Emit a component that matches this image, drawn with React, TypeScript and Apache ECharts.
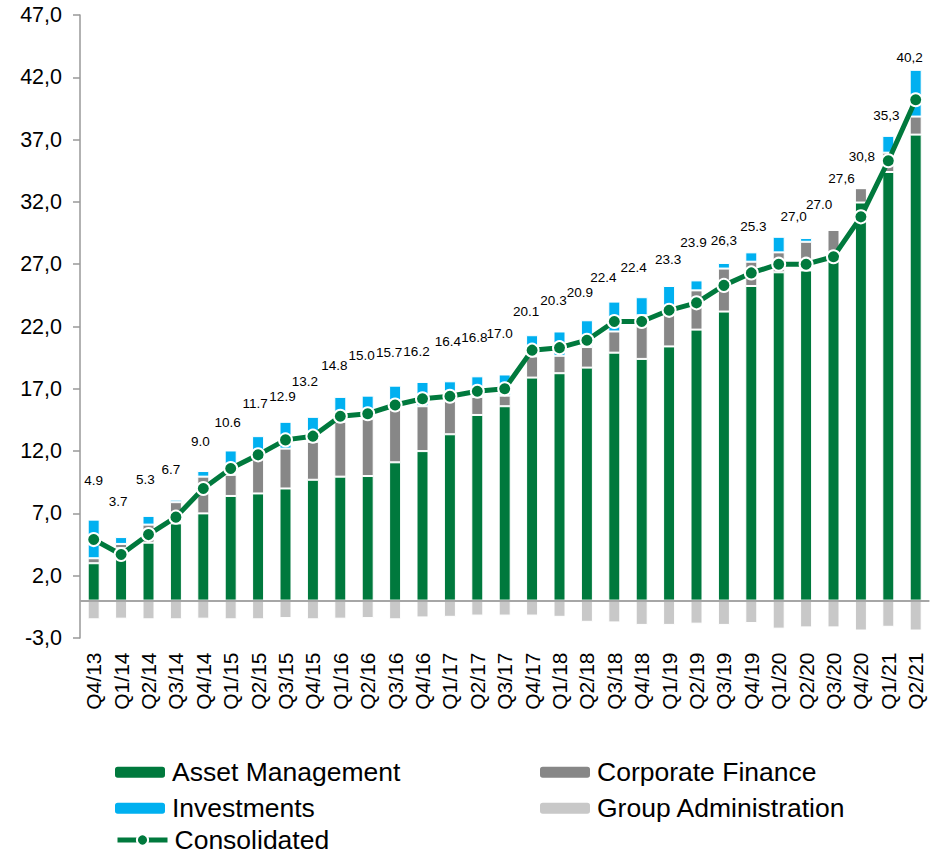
import React, { useEffect, useRef } from "react";
import * as echarts from "echarts";

const categories = [
  "Q4/13", "Q1/14", "Q2/14", "Q3/14", "Q4/14", "Q1/15", "Q2/15", "Q3/15", "Q4/15",
  "Q1/16", "Q2/16", "Q3/16", "Q4/16", "Q1/17", "Q2/17", "Q3/17", "Q4/17", "Q1/18",
  "Q2/18", "Q3/18", "Q4/18", "Q1/19", "Q2/19", "Q3/19", "Q4/19", "Q1/20", "Q2/20",
  "Q3/20", "Q4/20", "Q1/21", "Q2/21",
];

const assetManagement = [
  3.0, 4.2, 4.65, 6.2, 7.0, 8.4, 8.6, 9.0, 9.7, 9.95, 10.0, 11.1, 12.0, 13.35, 14.9, 15.6,
  17.9, 18.25, 18.7, 19.9, 19.4, 20.4, 21.75, 23.2, 25.25, 26.35, 26.5, 27.4, 31.95, 34.4, 37.4,
];

const corporateFinance = [
  0.4, 0.35, 1.45, 1.7, 2.95, 1.7, 2.9, 3.2, 3.05, 4.4, 4.6, 4.3, 3.6, 2.75, 1.45, 0.85,
  1.7, 1.4, 1.65, 1.7, 3.5, 2.95, 3.15, 3.45, 1.95, 1.6, 2.3, 2.35, 1.15, 1.55, 1.45,
];

const investments = [
  3.1, 0.55, 0.7, 0.2, 0.45, 1.95, 1.7, 2.15, 2.0, 2.0, 1.85, 1.85, 1.95, 1.5, 1.65, 1.7,
  1.7, 1.95, 2.15, 2.4, 1.45, 1.9, 0.8, 0.45, 0.75, 1.25, 0.3, 0, 0, 1.35, 3.75,
];

const groupAdministration = [
  -1.5, -1.45, -1.5, -1.5, -1.45, -1.5, -1.5, -1.4, -1.5, -1.45, -1.4, -1.5, -1.35, -1.3, -1.2, -1.2,
  -1.2, -1.3, -1.7, -1.75, -1.95, -1.95, -1.85, -1.95, -1.8, -2.25, -2.15, -2.15, -2.4, -2.1, -2.4,
];

const consolidated = [
  4.9, 3.7, 5.3, 6.7, 9.0, 10.6, 11.7, 12.9, 13.2, 14.8, 15.0, 15.7, 16.2, 16.4, 16.8, 17.0,
  20.1, 20.3, 20.9, 22.4, 22.4, 23.3, 23.9, 25.3, 26.3, 27.0, 27.0, 27.6, 30.8, 35.3, 40.2,
];

const consolidatedLabels = [
  "4.9", "3.7", "5.3", "6.7", "9.0", "10.6", "11.7", "12.9", "13.2", "14.8", "15.0", "15.7",
  "16.2", "16.4", "16.8", "17.0", "20.1", "20.3", "20.9", "22.4", "22.4", "23.3", "23.9",
  "26,3", "25.3", "27,0", "27.0", "27,6", "30,8", "35,3", "40,2",
];

// label placement (pixel offsets of each label centre from its marker)
const labelDx = [0, -3, -3, -5, -3, -3, -3, -3, -8, -6, -6, -6, -6, -2, -3, -5, -6, -6, -7, -11, -8, -1, -3, 0, 2, 15, 13, 8, 1, -2, -6];
const labelDy = [-59, -53, -55, -48, -47, -46, -51, -43, -55, -51, -58, -52, -47, -55, -54, -55, -39, -47, -48, -44, -54, -51, -60, -45, -46, -48, -60, -78, -60, -45, -42];

const yMin = -3;
const yMax = 47;
const yStep = 5;

const GREEN = "#00793D";
const BLUE = "#00B0F0";
const DARK_GRAY = "#878787";
const LIGHT_GRAY = "#C8C8C8";
const FONT = "'Liberation Sans', Arial, sans-serif";

export default function App() {
  const ref = useRef<HTMLDivElement>(null);

  useEffect(() => {
    if (!ref.current) return;
    const chart = echarts.init(ref.current, undefined, { renderer: "svg" });

    const barBase = {
      type: "bar",
      stack: "total",
      barWidth: 12,
      itemStyle: { borderColor: "#ffffff", borderWidth: 1 },
    };

    const legendCommon = {
      orient: "vertical",
      itemWidth: 50,
      itemHeight: 11,
      itemGap: 9,
      padding: 0,
      textStyle: { fontSize: 26.5, lineHeight: 26.5, color: "#000", fontFamily: FONT, padding: [0, 0, 0, 2] },
      itemStyle: { borderWidth: 0 },
    };

    chart.setOption({
      animation: false,
      textStyle: { fontFamily: FONT },
      grid: { left: 80, right: 0.6, top: 15, bottom: 217, containLabel: false },
      legend: [
        { ...legendCommon, left: 115, top: 758.75, data: ["Asset Management", "Investments"] },
        { ...legendCommon, left: 540, top: 758.75, data: ["Corporate Finance", "Group Administration"] },
        {
          ...legendCommon,
          left: 115,
          top: 826.5,
          itemHeight: 14,
          textStyle: { ...legendCommon.textStyle, lineHeight: 22 },
          data: ["Consolidated"],
          lineStyle: { width: 5 },
          itemStyle: { borderColor: "#fff", borderWidth: 2 },
        },
      ],
      xAxis: {
        type: "category",
        data: categories,
        axisLine: { show: false },
        axisTick: { show: false },
        axisLabel: {
          rotate: 90,
          margin: 14.5,
          fontSize: 21,
          color: "#000",
          fontFamily: FONT,
          interval: 0,
        },
      },
      yAxis: {
        type: "value",
        min: yMin,
        max: yMax,
        interval: yStep,
        axisLine: { show: true, lineStyle: { color: "#999999", width: 1.5 } },
        axisTick: { show: true, length: 7, lineStyle: { color: "#999999", width: 1.5 } },
        splitLine: { show: false },
        axisLabel: {
          margin: 18,
          fontSize: 21.5,
          color: "#000",
          fontFamily: FONT,
          formatter: (v: number) => v.toFixed(1).replace(".", ","),
        },
      },
      series: [
        { ...barBase, name: "Asset Management", data: assetManagement, itemStyle: { ...barBase.itemStyle, color: GREEN } },
        { ...barBase, name: "Corporate Finance", data: corporateFinance, itemStyle: { ...barBase.itemStyle, color: DARK_GRAY } },
        { ...barBase, name: "Investments", data: investments, itemStyle: { ...barBase.itemStyle, color: BLUE } },
        {
          ...barBase,
          name: "Group Administration",
          data: groupAdministration,
          itemStyle: { ...barBase.itemStyle, color: LIGHT_GRAY },
          markLine: {
            silent: true,
            symbol: "none",
            label: { show: false },
            lineStyle: { color: "#A6A6A6", width: 2, type: "solid" },
            data: [{ yAxis: 0 }],
            z: 3,
          },
        },
        {
          type: "line",
          name: "Consolidated",
          data: consolidated.map((v, i) => ({
            value: v,
            label: { offset: [labelDx[i], labelDy[i]] },
          })),
          z: 10,
          symbol: "circle",
          symbolSize: 13,
          lineStyle: { color: GREEN, width: 5 },
          itemStyle: { color: GREEN, borderColor: "#ffffff", borderWidth: 2 },
          label: {
            show: true,
            position: "inside",
            fontSize: 13.5,
            color: "#000",
            fontFamily: FONT,
            formatter: (p: any) => consolidatedLabels[p.dataIndex],
          },
        },
      ],
    });

    return () => chart.dispose();
  }, []);

  return (
    <div
      ref={ref}
      style={{ position: "absolute", left: 0, top: 0, width: 930, height: 855 }}
    />
  );
}
